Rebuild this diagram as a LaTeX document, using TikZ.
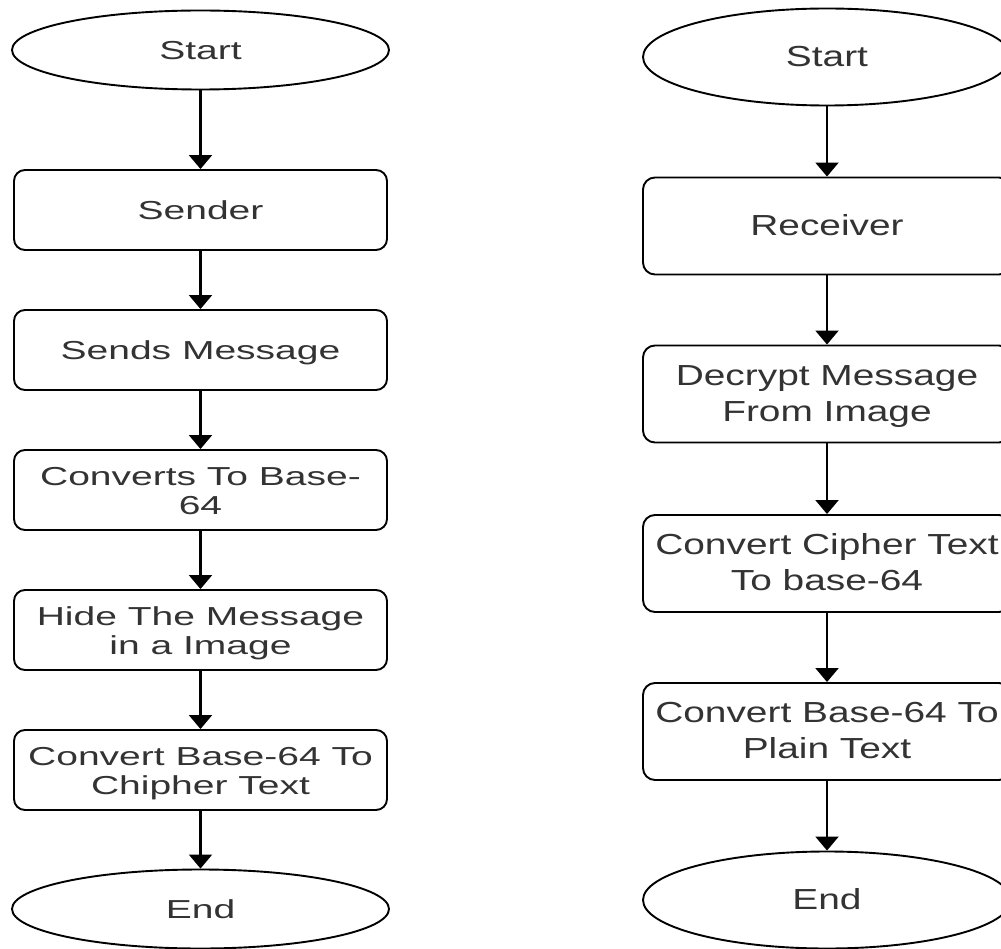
\documentclass[tikz,border=0pt]{standalone}
\usepackage{fontspec}
\setmainfont{Liberation Sans}
\usetikzlibrary{arrows.meta,shapes.geometric}

% wide, horizontally stretched label with centred lines
\newcommand{\widelbl}[2]{\scalebox{#1}[1]{\begin{tabular}{@{}c@{}}#2\end{tabular}}}
\newcommand{\lefttxt}[1]{\fontsize{26}{29}\selectfont\raisebox{-4pt}[\height][\depth]{\widelbl{1.5}{#1}}}
\newcommand{\righttxt}[1]{\fontsize{29}{36}\selectfont\raisebox{-2pt}[\height][\depth]{\widelbl{1.34}{#1}}}

\tikzset{
  shapebase/.style={draw=black, line width=1.9pt, fill=white, inner sep=0pt, text=black!80},
  lbox/.style={shapebase, rectangle, rounded corners=11pt, minimum width=373pt, minimum height=80pt},
  rbox/.style={shapebase, rectangle, rounded corners=12pt, minimum width=368pt, minimum height=97pt},
  lterm/.style={shapebase, ellipse, minimum width=377pt, minimum height=79pt},
  rterm/.style={shapebase, ellipse, minimum width=368pt, minimum height=97pt},
  flow/.style={draw=black, line width=2.1pt, -{Triangle[width=23pt,length=14pt]}}
}

\begin{document}
\begin{tikzpicture}[x=1pt, y=-1pt]
  \clip (0,0) rectangle (1001,949);
  \fill[white] (0,0) rectangle (1001,949);

  % sender side
  \node[lterm] (ls)  at (200.5,50)  {\lefttxt{Start}};
  \node[lbox]  (l1)  at (200.5,210) {\lefttxt{Sender}};
  \node[lbox]  (l2)  at (200.5,350) {\lefttxt{Sends Message}};
  \node[lbox]  (l3)  at (200.5,490) {\lefttxt{Converts To Base-\\64}};
  \node[lbox]  (l4)  at (200.5,630) {\lefttxt{Hide The Message\\in a Image}};
  \node[lbox]  (l5)  at (200.5,770) {\lefttxt{Convert Base-64 To\\Chipher Text}};
  \node[lterm] (le)  at (200.5,909) {\lefttxt{End}};

  \draw[flow] (ls) -- (l1);
  \draw[flow] (l1) -- (l2);
  \draw[flow] (l2) -- (l3);
  \draw[flow] (l3) -- (l4);
  \draw[flow] (l4) -- (l5);
  \draw[flow] (l5) -- (le);

  % receiver side
  \node[rterm] (rs)  at (827,57)    {\righttxt{Start}};
  \node[rbox]  (r1)  at (827,226)   {\righttxt{Receiver}};
  \node[rbox]  (r2)  at (827,394)   {\righttxt{Decrypt Message\\From Image}};
  \node[rbox]  (r3)  at (827,563.5) {\righttxt{Convert Cipher Text\\To base-64}};
  \node[rbox]  (r4)  at (827,731.5) {\righttxt{Convert Base-64 To\\Plain Text}};
  \node[rterm] (re)  at (827,900)   {\righttxt{End}};

  \draw[flow] (rs) -- (r1);
  \draw[flow] (r1) -- (r2);
  \draw[flow] (r2) -- (r3);
  \draw[flow] (r3) -- (r4);
  \draw[flow] (r4) -- (re);
\end{tikzpicture}
\end{document}
